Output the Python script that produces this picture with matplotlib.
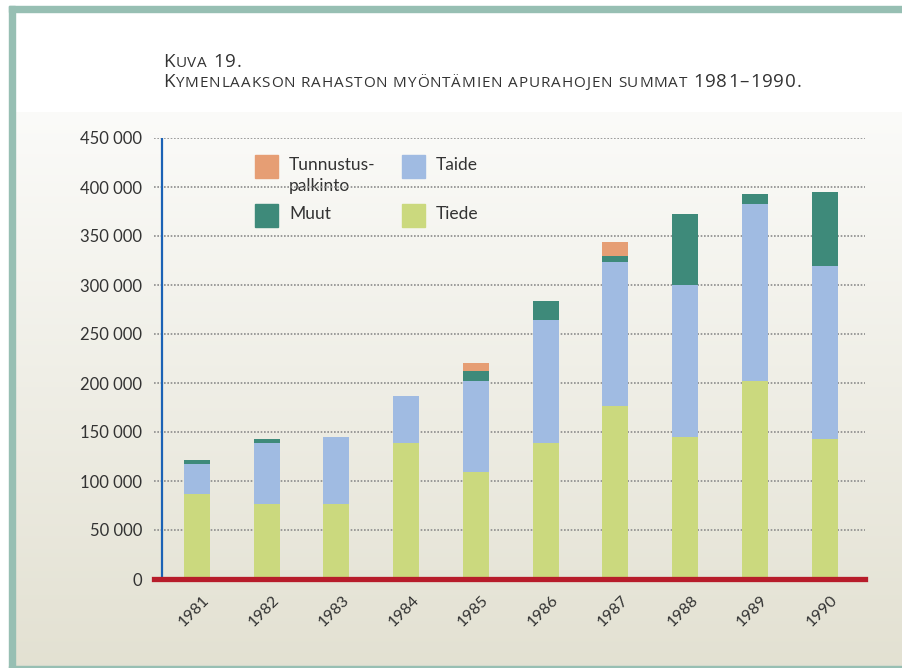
import numpy as np
import matplotlib.pyplot as plt
import matplotlib.transforms as mtransforms
from matplotlib.patches import Rectangle

# data (euro sums per year)
years = ['1981', '1982', '1983', '1984', '1985', '1986', '1987', '1988', '1989', '1990']
tiede = [87000, 76500, 76500, 139000, 109500, 139000, 176500, 145000, 202000, 143000]
taide = [30000, 62500, 68500, 48000, 92500, 125000, 147000, 155000, 181000, 176000]
muut = [4000, 4000, 0, 0, 10000, 20000, 6000, 72500, 10000, 76000]
tunnustus = [0, 0, 0, 0, 8000, 0, 14500, 0, 0, 0]

yticks = list(range(0, 450001, 50000))
ytick_labels = [f"{v:,}".replace(',', ' ') for v in yticks]

c_tiede = '#cbd97e'
c_taide = '#a0bbe2'
c_muut = '#3e8a7a'
c_tunn = '#e69e74'
c_text = '#333333'
c_frame = '#97bfb3'

plt.rcParams['font.family'] = ['Lato', 'DejaVu Sans']

W, H = 903, 668
fig = plt.figure(figsize=(W / 100, H / 100), dpi=100)

# background layer in pixel coordinates
bg = fig.add_axes([0, 0, 1, 1])
bg.set_xlim(0, W)
bg.set_ylim(H, 0)
bg.axis('off')
bg.add_patch(Rectangle((0, 0), W, H, color='white', zorder=0))
grad = np.linspace(0, 1, 256).reshape(-1, 1)
top = np.array([0.984, 0.984, 0.976])
bot = np.array([0.890, 0.882, 0.824])
img = top + (bot - top) * grad[..., None]
bg.imshow(img, extent=[15, W, 666, 112], aspect='auto', zorder=1)
bg.add_patch(Rectangle((9, 6), W - 9, 6, color=c_frame, zorder=2))
bg.add_patch(Rectangle((9, 6), 6, H - 6, color=c_frame, zorder=2))
bg.add_patch(Rectangle((9, 666), W - 9, 2, color=c_frame, zorder=2))

renderer = fig.canvas.get_renderer()
title_font = ['Open Sans', 'DejaVu Sans']
_adv = {}


def advance(ch, size):
    """ Horizontal advance of one character, in pixels."""
    key = (ch, size)
    if key not in _adv:
        t1 = bg.text(0, 0, 'X' + ch + 'X', fontsize=size, family=title_font)
        t2 = bg.text(0, 0, 'XX', fontsize=size, family=title_font)
        _adv[key] = (t1.get_window_extent(renderer=renderer).width
                     - t2.get_window_extent(renderer=renderer).width)
        t1.remove()
        t2.remove()
    return _adv[key]


def small_caps(x, y, s, big, small, track=0.9):
    """ Draw text in fake small caps with a bit of letter spacing."""
    for ch in s:
        size = small if ch.islower() else big
        if ch == ' ':
            size = small
        else:
            bg.text(x, y, ch.upper(), fontsize=size, family=title_font,
                    color=c_text, va='baseline', ha='left', zorder=5)
        x += advance(ch.upper(), size) + track


small_caps(163, 67, 'Kuva 19.', 13.5, 11)
small_caps(163, 87, 'Kymenlaakson rahaston myöntämien apurahojen summat 1981\u20131990.', 13.5, 11)

# legend, drawn by hand like the original
legend_items = [('Tunnustus-', c_tunn, 255, 155), ('Taide', c_taide, 402, 155),
                ('Muut', c_muut, 255, 204), ('Tiede', c_tiede, 402, 204)]
for label, col, lx, ly in legend_items:
    bg.add_patch(Rectangle((lx, ly), 23, 23, color=col, zorder=5))
    bg.text(lx + 34, ly + 10, label, fontsize=12.5, color=c_text, va='center', zorder=5)
bg.text(289, 186, 'palkinto', fontsize=12.5, color=c_text, va='center', zorder=5)

# chart axes
ax = fig.add_axes([154 / W, 1 - 579 / H, (865 - 154) / W, (579 - 138) / H])
ax.patch.set_alpha(0)
ax.set_xlim(-0.617, 9.58)
ax.set_ylim(0, 450000)
for s in ax.spines.values():
    s.set_visible(False)

for v in yticks[1:]:
    ax.axhline(v, color='#8c8c8c', lw=1.2, ls=(0, (1, 1)), zorder=1)

x = np.arange(len(years))
w = 0.373
b1 = np.array(tiede)
b2 = b1 + np.array(taide)
b3 = b2 + np.array(muut)
ax.bar(x, tiede, w, color=c_tiede, zorder=2)
ax.bar(x, taide, w, bottom=b1, color=c_taide, zorder=2)
ax.bar(x, muut, w, bottom=b2, color=c_muut, zorder=2)
ax.bar(x, tunnustus, w, bottom=b3, color=c_tunn, zorder=2)

ax.plot([-0.5, -0.5], [0, 450000], color='#1b62b5', lw=1.6, zorder=3)
ax.axhline(0, color='#b71c2a', lw=3.8, zorder=4, clip_on=False)

ax.set_yticks(yticks)
ax.set_yticklabels(ytick_labels)
ax.set_xticks(x)
ax.set_xticklabels(years, rotation=45, ha='right', rotation_mode='anchor')
ax.tick_params(axis='y', length=0, pad=8.6, labelsize=12, labelcolor=c_text)
ax.tick_params(axis='x', length=0, pad=10, labelsize=11.5, labelcolor=c_text)

# nudge the year labels a little to the right, as in the original
shift = mtransforms.ScaledTranslation(4 / 72, 0, fig.dpi_scale_trans)
for lab in ax.get_xticklabels():
    lab.set_transform(lab.get_transform() + shift)

fig.savefig('out.png', dpi=100)
